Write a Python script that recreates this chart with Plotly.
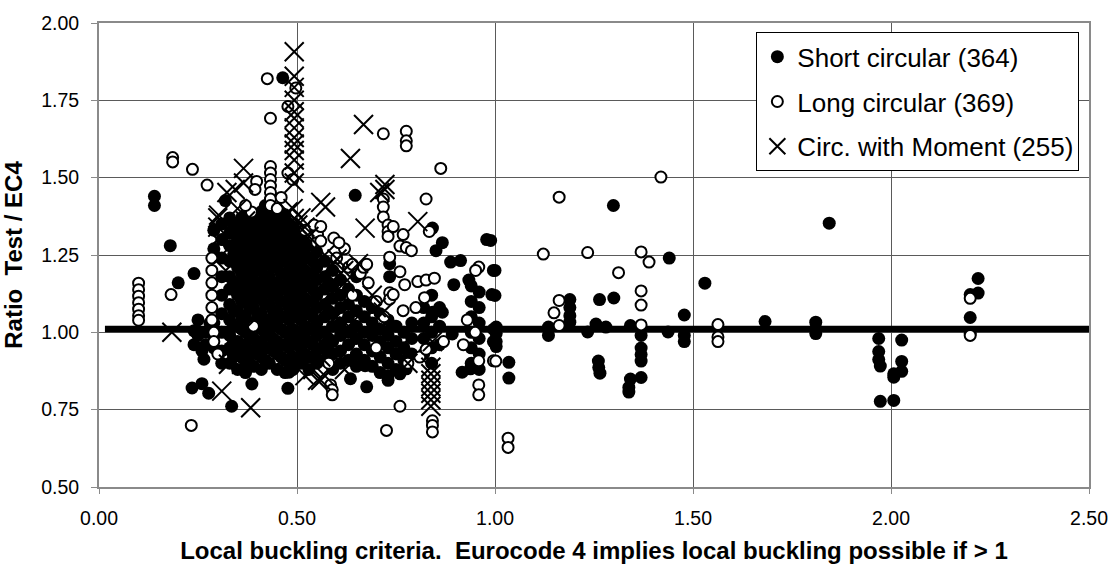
import plotly.graph_objects as go

# ---------------- data ----------------
short_pts = [
    # isolated points, left part
    (0.14, 1.44), (0.14, 1.41), (0.18, 1.28), (0.20, 1.16), (0.24, 1.19),
    (0.24, 1.005), (0.24, 0.96), (0.26, 0.94), (0.265, 0.913), (0.235, 0.82),
    (0.26, 0.834), (0.277, 0.803), (0.335, 0.761), (0.386, 0.833), (0.464, 1.823),
    (0.477, 0.819), (0.48, 0.871), (0.319, 1.426), (0.27, 1.00), (0.28, 1.03),
    (0.25, 1.04), (0.25, 0.99), (0.27, 0.96),
    # dense cluster
    (0.29, 1.33), (0.29, 1.27), (0.29, 1.03), (0.29, 0.99), (0.29, 0.95),
    (0.31, 1.35), (0.31, 1.30), (0.31, 1.24), (0.31, 1.18), (0.31, 1.12), (0.31, 1.06), (0.31, 1.00), (0.31, 0.94), (0.31, 0.90),
    (0.33, 1.37), (0.33, 1.32), (0.33, 1.28), (0.33, 1.23), (0.33, 1.18), (0.33, 1.14), (0.33, 1.09), (0.33, 1.04), (0.33, 0.99), (0.33, 0.95), (0.33, 0.90),
    (0.34, 1.34), (0.34, 1.25), (0.34, 1.16), (0.34, 1.07), (0.34, 0.97), (0.34, 0.92),
    (0.35, 1.35), (0.35, 1.30), (0.35, 1.26), (0.35, 1.21), (0.35, 1.16), (0.35, 1.12), (0.35, 1.07), (0.35, 1.02), (0.35, 0.97), (0.35, 0.93), (0.35, 0.88),
    (0.36, 1.37), (0.36, 1.32), (0.36, 1.28), (0.36, 1.23), (0.36, 1.19), (0.36, 1.14), (0.36, 1.10), (0.36, 1.05), (0.36, 1.01), (0.36, 0.96), (0.36, 0.92),
    (0.37, 1.38), (0.37, 1.33), (0.37, 1.29), (0.37, 1.24), (0.37, 1.19), (0.37, 1.15), (0.37, 1.10), (0.37, 1.05), (0.37, 1.00), (0.37, 0.96), (0.37, 0.91), (0.37, 0.87),
    (0.38, 1.35), (0.38, 1.30), (0.38, 1.26), (0.38, 1.21), (0.38, 1.17), (0.38, 1.12), (0.38, 1.08), (0.38, 1.03), (0.38, 0.99), (0.38, 0.94), (0.38, 0.90),
    (0.39, 1.36), (0.39, 1.31), (0.39, 1.27), (0.39, 1.22), (0.39, 1.17), (0.39, 1.13), (0.39, 1.08), (0.39, 1.03), (0.39, 0.98), (0.39, 0.94), (0.39, 0.89),
    (0.40, 1.38), (0.40, 1.33), (0.40, 1.29), (0.40, 1.24), (0.40, 1.20), (0.40, 1.15), (0.40, 1.11), (0.40, 1.06), (0.40, 1.02), (0.40, 0.97), (0.40, 0.93),
    (0.41, 1.39), (0.41, 1.34), (0.41, 1.29), (0.41, 1.25), (0.41, 1.20), (0.41, 1.16), (0.41, 1.11), (0.41, 1.06), (0.41, 1.01), (0.41, 0.97), (0.41, 0.92), (0.41, 0.88),
    (0.42, 1.41), (0.42, 1.36), (0.42, 1.31), (0.42, 1.27), (0.42, 1.22), (0.42, 1.18), (0.42, 1.13), (0.42, 1.09), (0.42, 1.04), (0.42, 1.00), (0.42, 0.95), (0.42, 0.91),
    (0.43, 1.37), (0.43, 1.32), (0.43, 1.28), (0.43, 1.23), (0.43, 1.18), (0.43, 1.14), (0.43, 1.09), (0.43, 1.04), (0.43, 0.99), (0.43, 0.95), (0.43, 0.90),
    (0.44, 1.39), (0.44, 1.34), (0.44, 1.30), (0.44, 1.25), (0.44, 1.21), (0.44, 1.16), (0.44, 1.12), (0.44, 1.07), (0.44, 1.03), (0.44, 0.98), (0.44, 0.94),
    (0.45, 1.35), (0.45, 1.30), (0.45, 1.26), (0.45, 1.21), (0.45, 1.16), (0.45, 1.12), (0.45, 1.07), (0.45, 1.02), (0.45, 0.97), (0.45, 0.93), (0.45, 0.88),
    (0.46, 1.37), (0.46, 1.32), (0.46, 1.28), (0.46, 1.23), (0.46, 1.19), (0.46, 1.14), (0.46, 1.10), (0.46, 1.05), (0.46, 1.01), (0.46, 0.96), (0.46, 0.92),
    (0.47, 1.38), (0.47, 1.33), (0.47, 1.29), (0.47, 1.24), (0.47, 1.19), (0.47, 1.15), (0.47, 1.10), (0.47, 1.05), (0.47, 1.00), (0.47, 0.96), (0.47, 0.91), (0.47, 0.87),
    (0.48, 1.35), (0.48, 1.31), (0.48, 1.26), (0.48, 1.22), (0.48, 1.17), (0.48, 1.13), (0.48, 1.08), (0.48, 1.04), (0.48, 0.99), (0.48, 0.95), (0.48, 0.90),
    (0.49, 1.34), (0.49, 1.29), (0.49, 1.25), (0.49, 1.20), (0.49, 1.16), (0.49, 1.11), (0.49, 1.06), (0.49, 1.01), (0.49, 0.97), (0.49, 0.92), (0.49, 0.88),
    (0.50, 1.32), (0.50, 1.27), (0.50, 1.23), (0.50, 1.18), (0.50, 1.14), (0.50, 1.09), (0.50, 1.05), (0.50, 1.00), (0.50, 0.96), (0.50, 0.91),
    (0.51, 1.31), (0.51, 1.27), (0.51, 1.22), (0.51, 1.18), (0.51, 1.13), (0.51, 1.08), (0.51, 1.04), (0.51, 0.99), (0.51, 0.95), (0.51, 0.90),
    (0.52, 1.29), (0.52, 1.25), (0.52, 1.20), (0.52, 1.16), (0.52, 1.11), (0.52, 1.07), (0.52, 1.02), (0.52, 0.98), (0.52, 0.93),
    (0.53, 1.28), (0.53, 1.24), (0.53, 1.19), (0.53, 1.15), (0.53, 1.10), (0.53, 1.06), (0.53, 1.01), (0.53, 0.97), (0.53, 0.92), (0.53, 0.88),
    (0.54, 1.23), (0.54, 1.19), (0.54, 1.14), (0.54, 1.10), (0.54, 1.05), (0.54, 1.01), (0.54, 0.96), (0.54, 0.92),
    (0.55, 1.26), (0.55, 1.21), (0.55, 1.17), (0.55, 1.12), (0.55, 1.08), (0.55, 1.03), (0.55, 0.99), (0.55, 0.94), (0.55, 0.90),
    (0.57, 1.23), (0.57, 1.18), (0.57, 1.14), (0.57, 1.09), (0.57, 1.05), (0.57, 1.00), (0.57, 0.96), (0.57, 0.91),
    (0.58, 1.16), (0.58, 1.07), (0.58, 0.98), (0.58, 0.94),
    (0.59, 1.20), (0.59, 1.15), (0.59, 1.11), (0.59, 1.06), (0.59, 1.02), (0.59, 0.97), (0.59, 0.93), (0.59, 0.88),
    (0.61, 1.17), (0.61, 1.12), (0.61, 1.08), (0.61, 1.03), (0.61, 0.99), (0.61, 0.94), (0.61, 0.90),
    (0.63, 1.14), (0.63, 1.09), (0.63, 1.05), (0.63, 1.00), (0.63, 0.96), (0.63, 0.91),
    (0.65, 1.18), (0.65, 1.12), (0.65, 1.07), (0.65, 1.02), (0.65, 0.98), (0.65, 0.93), (0.65, 0.89),
    (0.67, 1.10), (0.67, 1.05), (0.67, 1.00), (0.67, 0.96), (0.67, 0.91),
    (0.69, 1.08), (0.69, 1.03), (0.69, 0.99), (0.69, 0.94), (0.69, 0.89),
    (0.71, 1.06), (0.71, 1.01), (0.71, 0.97), (0.71, 0.92), (0.71, 0.87),
    (0.73, 1.04), (0.73, 0.99), (0.73, 0.95), (0.73, 0.90), (0.73, 0.86),
    (0.75, 1.02), (0.75, 0.97), (0.75, 0.93), (0.75, 0.88),
    (0.77, 1.00), (0.77, 0.95), (0.77, 0.91),
    (0.79, 1.03), (0.79, 0.98), (0.79, 0.93),
    (0.82, 1.08), (0.82, 1.03), (0.82, 0.98), (0.82, 0.93),
    (0.84, 1.12), (0.84, 1.05), (0.84, 1.00), (0.84, 0.95), (0.84, 0.90),
    (0.86, 1.08), (0.86, 1.02), (0.86, 0.96),
    (0.94, 1.15), (0.94, 1.10), (0.94, 1.05), (0.94, 1.00), (0.94, 0.95), (0.94, 0.90),
    (0.96, 1.13), (0.96, 1.08), (0.96, 1.03), (0.96, 0.98), (0.96, 0.93), (0.96, 0.88),
    # middle region
    (0.647, 1.443), (0.842, 1.337), (0.867, 1.29), (0.851, 1.264), (0.888, 1.227),
    (0.913, 1.232), (0.979, 1.30), (0.996, 1.20), (0.992, 1.122), (0.896, 1.154),
    (0.934, 1.169), (0.734, 1.222), (0.734, 1.18), (0.635, 0.85), (0.676, 0.824),
    (0.672, 0.892), (0.73, 0.845), (0.76, 0.866), (0.776, 0.882), (0.917, 0.871),
    (0.938, 0.882), (0.892, 0.995), (0.842, 1.065), (0.867, 1.065), (0.996, 1.01),
    (0.996, 0.97),
    # right region
    (0.989, 1.297), (1.0, 1.2), (1.0, 1.119), (1.003, 1.017), (1.003, 0.996),
    (1.003, 0.97), (1.003, 0.954), (1.035, 0.903), (1.035, 0.852), (1.135, 1.017),
    (1.135, 0.99), (1.189, 1.106), (1.189, 1.08), (1.189, 1.054), (1.189, 1.033),
    (1.264, 1.106), (1.30, 1.111), (1.234, 1.001), (1.255, 1.027), (1.28, 1.017),
    (1.261, 0.907), (1.262, 0.886), (1.265, 0.868), (1.342, 1.022), (1.369, 0.99),
    (1.369, 0.949), (1.369, 0.928), (1.369, 0.907), (1.369, 0.854), (1.342, 0.849),
    (1.338, 0.822), (1.338, 0.807), (1.437, 1.001), (1.478, 1.056), (1.478, 0.99),
    (1.478, 0.97), (1.299, 1.41), (1.44, 1.24), (1.53, 1.159),
    (1.844, 1.353), (1.682, 1.035), (1.81, 1.033), (1.81, 1.012), (1.81, 0.996),
    (1.969, 0.98), (1.969, 0.938), (1.969, 0.912), (1.973, 0.891), (1.973, 0.777),
    (2.007, 0.78), (2.007, 0.866), (2.007, 0.855), (2.027, 0.975), (2.027, 0.906),
    (2.027, 0.874), (2.22, 1.174), (2.22, 1.127), (2.20, 1.122), (2.20, 1.048),
    (2.20, 0.996),
]

long_pts = [
    (0.10, 1.159), (0.10, 1.138), (0.10, 1.117), (0.10, 1.096), (0.10, 1.075),
    (0.10, 1.054), (0.10, 1.039), (0.186, 1.565), (0.186, 1.551), (0.236, 1.527),
    (0.273, 1.476), (0.182, 1.122), (0.233, 0.699), (0.425, 1.82), (0.433, 1.692),
    (0.433, 1.536), (0.433, 1.515), (0.433, 1.494), (0.433, 1.473), (0.433, 1.452),
    (0.433, 1.431), (0.433, 1.41), (0.398, 1.488), (0.394, 1.462), (0.46, 1.436),
    (0.477, 1.73), (0.477, 1.515), (0.489, 1.494), (0.543, 1.342), (0.552, 1.316),
    (0.385, 1.389), (0.497, 1.79),
    # cluster
    (0.285, 1.24), (0.285, 1.20), (0.285, 1.16), (0.285, 1.12), (0.285, 1.08),
    (0.285, 1.04), (0.29, 1.00), (0.29, 0.97), (0.37, 1.41), (0.45, 1.40),
    (0.39, 1.02), (0.30, 0.93), (0.52, 1.33),
    (0.55, 1.29), (0.62, 1.27), (0.60, 1.24),
    (0.63, 1.21), (0.66, 1.19), (0.68, 1.16), (0.64, 1.12), (0.70, 1.10),
    (0.72, 1.05), (0.70, 0.95), (0.78, 0.90),
    (0.80, 1.08), (0.81, 0.92), (0.87, 0.97), (0.92, 0.96),
    (0.93, 1.04), (0.95, 1.00), (0.58, 0.90),
    # middle
    (0.718, 1.642), (0.776, 1.65), (0.776, 1.619), (0.776, 1.603), (0.863, 1.53),
    (0.826, 1.431), (0.718, 1.431), (0.718, 1.405), (0.718, 1.373), (0.73, 1.347),
    (0.73, 1.326), (0.73, 1.31), (0.743, 1.342), (0.768, 1.316), (0.76, 1.279),
    (0.776, 1.274), (0.789, 1.264), (0.834, 1.326), (0.543, 1.347), (0.56, 1.342),
    (0.56, 1.295), (0.593, 1.305), (0.606, 1.29), (0.734, 1.243), (0.76, 1.196),
    (0.772, 1.154), (0.805, 1.164), (0.826, 1.169), (0.847, 1.175), (0.822, 1.112),
    (0.734, 1.128), (0.734, 1.107), (0.743, 1.122), (0.768, 1.07), (0.959, 1.211),
    (0.951, 1.20), (0.959, 0.908), (0.996, 0.908), (0.959, 0.83), (0.959, 0.798),
    (0.76, 0.761), (0.726, 0.683), (0.842, 0.714), (0.842, 0.699), (0.842, 0.678),
    (0.585, 0.83), (0.589, 0.814), (0.589, 0.798), (0.826, 0.945), (0.64, 1.22),
    (0.668, 1.21), (0.676, 1.22),
    # right
    (1.419, 1.502), (1.162, 1.437), (1.122, 1.253), (1.234, 1.258), (1.369, 1.26),
    (1.389, 1.227), (1.312, 1.193), (1.369, 1.134), (1.369, 1.088), (1.162, 1.103),
    (1.149, 1.063), (1.162, 1.022), (1.369, 1.024), (1.563, 1.025), (1.563, 0.985),
    (1.563, 0.97), (1.002, 0.907), (1.033, 0.658), (1.033, 0.628), (2.20, 1.11),
    (2.20, 0.99),
]

moment_pts = [
    (0.184, 1.0), (0.302, 1.379), (0.323, 1.452), (0.344, 1.462), (0.365, 1.53),
    (0.365, 1.483), (0.493, 1.907), (0.493, 1.828), (0.493, 1.792), (0.493, 1.75),
    (0.493, 1.713), (0.493, 1.692), (0.493, 1.661), (0.493, 1.63), (0.493, 1.609),
    (0.493, 1.588), (0.493, 1.557), (0.493, 1.515), (0.493, 1.483), (0.477, 1.389),
    (0.493, 1.368), (0.502, 1.347), (0.56, 1.42), (0.327, 0.897), (0.36, 0.897),
    (0.385, 0.918), (0.31, 0.81), (0.383, 0.756), (0.468, 0.918), (0.552, 0.845),
    (0.668, 1.672), (0.635, 1.562), (0.572, 1.405), (0.722, 1.478), (0.722, 1.462),
    (0.709, 1.452), (0.672, 1.337), (0.805, 1.358), (0.601, 1.237), (0.618, 1.20),
    (0.655, 1.222), (0.838, 0.887), (0.838, 0.866), (0.838, 0.845), (0.838, 0.824),
    (0.838, 0.803), (0.838, 0.782), (0.838, 0.761), (0.56, 0.845), (0.842, 0.97),
    (0.718, 1.065),
    # cluster
    (0.30, 1.34), (0.30, 1.30), (0.31, 1.25), (0.32, 1.20), (0.30, 1.37),
    (0.33, 1.33), (0.35, 1.40), (0.37, 1.36), (0.49, 1.40), (0.51, 1.37),
    (0.52, 1.34), (0.53, 1.31), (0.49, 1.32), (0.47, 1.28), (0.55, 0.98),
    (0.55, 0.95), (0.56, 0.92), (0.54, 0.88), (0.50, 0.97), (0.51, 0.94),
    (0.45, 0.95), (0.42, 0.93), (0.35, 0.95), (0.33, 0.92), (0.40, 1.05),
    (0.44, 1.10), (0.57, 1.25), (0.59, 1.22), (0.61, 1.19), (0.62, 1.16),
    (0.58, 1.12), (0.60, 1.05), (0.63, 1.02), (0.66, 0.98), (0.69, 1.12),
    (0.70, 1.08), (0.73, 1.00), (0.76, 0.95), (0.78, 0.90), (0.52, 0.86),
    (0.47, 0.90), (0.62, 0.88), (0.57, 0.86),
]

ref_line_x = [0.015, 2.50]
ref_line_y = [1.011, 1.011]

series_names = ["Short circular (364)", "Long circular (369)", "Circ. with Moment (255)"]
x_ticks = [0.0, 0.5, 1.0, 1.5, 2.0, 2.5]
y_ticks = [0.50, 0.75, 1.00, 1.25, 1.50, 1.75, 2.00]

x_title = "Local buckling criteria.\u00a0\u00a0Eurocode 4 implies local buckling possible if > 1"
y_title = "Ratio\u00a0\u00a0Test / EC4"

# ---------------- figure ----------------
FONT = "Liberation Sans, Arial, sans-serif"
fig = go.Figure()

fig.add_trace(go.Scatter(
    x=ref_line_x, y=ref_line_y, mode="lines",
    line=dict(color="black", width=6.5), showlegend=False, hoverinfo="skip"))

fig.add_trace(go.Scatter(
    x=[p[0] for p in short_pts], y=[p[1] for p in short_pts], mode="markers",
    name=series_names[0], legendgroup="a",
    marker=dict(symbol="circle", size=13, color="black", line=dict(width=0))))

fig.add_trace(go.Scatter(
    x=[p[0] for p in long_pts], y=[p[1] for p in long_pts], mode="markers",
    name=series_names[1], legendgroup="b",
    marker=dict(symbol="circle", size=11, color="white",
                line=dict(width=2, color="black"))))

fig.add_trace(go.Scatter(
    x=[p[0] for p in moment_pts], y=[p[1] for p in moment_pts], mode="markers",
    name=series_names[2], legendgroup="c",
    marker=dict(symbol="x-thin", size=19, color="black",
                line=dict(width=2, color="black"))))

fig.update_layout(
    width=1120, height=572,
    margin=dict(l=95, r=22, t=12, b=82),
    paper_bgcolor="white", plot_bgcolor="white",
    font=dict(family=FONT, size=19.5, color="black"),
    legend=dict(
        x=0.664, y=0.98, xanchor="left", yanchor="top",
        bgcolor="white", bordercolor="black", borderwidth=1,
        font=dict(family=FONT, size=26, color="black"),
        tracegroupgap=8, itemsizing="trace",
    ),
    xaxis=dict(
        range=[0, 2.5], tickvals=x_ticks, tickformat=".2f",
        showgrid=True, gridcolor="#5a5a5a", gridwidth=1,
        showline=True, linecolor="#8a8a8a", linewidth=2, mirror=True,
        ticks="outside", ticklen=5, tickcolor="#8a8a8a",
        ticklabelstandoff=8,
        zeroline=False,
        title=dict(text="<b>" + x_title + "</b>", font=dict(family=FONT, size=24), standoff=14),
    ),
    yaxis=dict(
        range=[0.5, 2.0], tickvals=y_ticks, tickformat=".2f",
        showgrid=True, gridcolor="#5a5a5a", gridwidth=1,
        showline=True, linecolor="#8a8a8a", linewidth=2, mirror=True,
        ticks="outside", ticklen=6, tickcolor="#8a8a8a",
        ticklabelstandoff=8,
        zeroline=False,
        title=dict(text="<b>" + y_title + "</b>", font=dict(family=FONT, size=24), standoff=12),
    ),
)

fig.write_html("out.html")
